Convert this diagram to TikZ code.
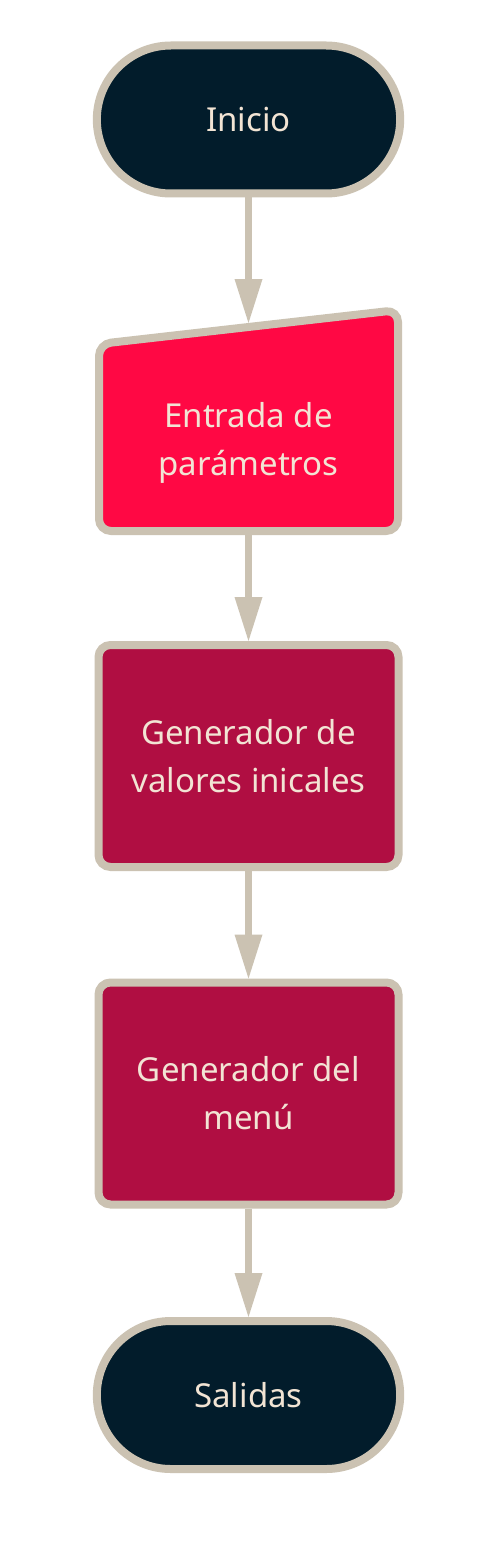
\documentclass[tikz,border=0pt]{standalone}
\usepackage{fontspec}
\setmainfont{Noto Sans}
\usetikzlibrary{arrows.meta,shapes.misc}
\definecolor{navy}{HTML}{021C2B}
\definecolor{beige}{HTML}{CBC2B2}
\definecolor{brightred}{HTML}{FF0844}
\definecolor{crimson}{HTML}{B00E42}
\definecolor{cream}{HTML}{F2E4D4}
\tikzset{
  terminal/.style={draw=beige, line width=8pt, fill=navy, rounded rectangle,
    minimum width=310pt, minimum height=148pt, text=cream, font=\fontsize{33}{48}\selectfont},
  process/.style={draw=beige, line width=8pt, fill=crimson, rectangle, rounded corners=12pt,
    minimum width=300pt, minimum height=222pt, text=cream, align=center, font=\fontsize{33}{48}\selectfont},
  label/.style={text=cream, align=center, font=\fontsize{33}{48}\selectfont},
  conn/.style={draw=beige, line width=7pt, -{Triangle[width=28pt,length=44pt,line width=0pt]}},
}
\begin{document}
\begin{tikzpicture}[x=1pt,y=-1pt]
\useasboundingbox (0,0) rectangle (497,1549);
\fill[white] (0,0) rectangle (497,1549);
\node[terminal] (inicio) at (248.5,119.5) {Inicio};
% manual input shape
\draw[draw=beige, line width=8pt, fill=brightred, rounded corners=12pt]
  (99,344) -- (398,310) -- (398,531) -- (99,531) -- cycle;
\node[label] (entrada) at (248.5,443) {Entrada de\\parámetros};
\coordinate (entTop) at (248.5,323);
\coordinate (entBot) at (248.5,535);
\node[process] (valores) at (248.5,756) {Generador de\\valores inicales};
\node[process] (menu) at (248.5,1093.5) {Generador del\\menú};
\node[terminal] (salidas) at (248.5,1395) {Salidas};
\draw[conn] (inicio.south) -- (entTop);
\draw[conn] (entBot) -- (valores.north);
\draw[conn] (valores.south) -- (menu.north);
\draw[conn] (menu.south) -- (salidas.north);
\end{tikzpicture}
\end{document}
